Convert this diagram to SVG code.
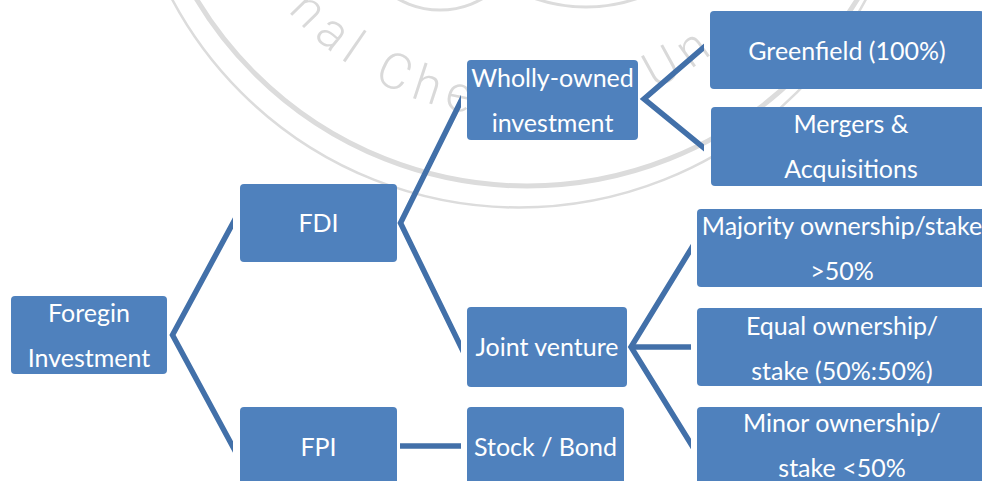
<svg xmlns="http://www.w3.org/2000/svg" width="982" height="481" viewBox="0 0 982 481">
  <style>
    .box { fill: #4F81BD; }
    .lbl { font-family: Lato, "Liberation Sans", sans-serif; font-size: 25px; fill: #ffffff; text-anchor: middle; }
    .link { fill: none; stroke: #4270A9; stroke-width: 5.5; stroke-linejoin: miter; stroke-miterlimit: 10; }
    .seal { fill: none; stroke: #dcdcdc; }
    .sealtxt { font-family: Roboto, "Liberation Sans", sans-serif; font-weight: 300; font-size: 50px; fill: #d9d9d9; letter-spacing: 8px; }
  </style>
  <defs>
    <path id="sealPath" d="M 212,-193 A 311 311 0 0 0 834,-193"/>
    <clipPath id="linkClip" clipPathUnits="userSpaceOnUse">
      <rect x="160" y="190" width="73" height="290"/>
      <rect x="390" y="80" width="71" height="290"/>
      <rect x="390" y="430" width="71" height="30"/>
      <rect x="630" y="35" width="74" height="125"/>
      <rect x="620" y="230" width="71" height="230"/>
    </clipPath>
  </defs>

  <rect width="982" height="481" fill="#ffffff"/>

  <!-- faint seal in the background -->
  <g id="seal">
    <circle class="seal" cx="519" cy="-185.5" r="393" stroke-width="2.5"/>
    <circle class="seal" cx="527" cy="-199.5" r="385.5" stroke-width="5"/>
    <circle class="seal" cx="440" cy="-75" r="85" stroke-width="3"/>
    <circle class="seal" cx="586" cy="-151" r="158" stroke-width="3"/>
    <text class="sealtxt"><textPath href="#sealPath" startOffset="222">nal Che</textPath></text>
    <text class="sealtxt"><textPath href="#sealPath" startOffset="624">Un</textPath></text>
  </g>

  <!-- connectors -->
  <g id="connectors" clip-path="url(#linkClip)">
    <polyline class="link" points="240,210 172.5,335 240,460"/>
    <polyline class="link" points="468,86.9 400.5,223 468,361.3"/>
    <line class="link" x1="400" y1="446" x2="468" y2="446" stroke-linecap="butt"/>
    <polyline class="link" points="712,40.2 644,99 712,154.5"/>
    <polyline class="link" points="698,237.6 631,347 698,455.3"/>
    <line class="link" x1="631" y1="347" x2="698" y2="347"/>
  </g>

  <!-- level 1 -->
  <g id="foreign-investment">
    <rect class="box" x="11" y="296" width="156" height="78" rx="4"/>
    <text class="lbl" x="89" y="322">Foregin</text>
    <text class="lbl" x="89" y="367">Investment</text>
  </g>

  <!-- level 2 -->
  <g id="fdi">
    <rect class="box" x="240" y="184" width="157" height="78" rx="4"/>
    <text class="lbl" x="318.5" y="232">FDI</text>
  </g>
  <g id="fpi">
    <rect class="box" x="240" y="407" width="157" height="78" rx="4"/>
    <text class="lbl" x="318.5" y="456">FPI</text>
  </g>

  <!-- level 3 -->
  <g id="wholly-owned">
    <rect class="box" x="467" y="60" width="171" height="80" rx="4"/>
    <text class="lbl" x="552.5" y="87">Wholly-owned</text>
    <text class="lbl" x="552.5" y="132">investment</text>
  </g>
  <g id="joint-venture">
    <rect class="box" x="467" y="307" width="160" height="80" rx="4"/>
    <text class="lbl" x="547" y="356">Joint venture</text>
  </g>
  <g id="stock-bond">
    <rect class="box" x="467" y="407" width="157" height="80" rx="4"/>
    <text class="lbl" x="545.5" y="456">Stock / Bond</text>
  </g>

  <!-- level 4 -->
  <g id="greenfield">
    <rect class="box" x="710" y="11" width="274" height="78" rx="4"/>
    <text class="lbl" x="847" y="60">Greenfield (100%)</text>
  </g>
  <g id="mergers">
    <rect class="box" x="711" y="107" width="280" height="79" rx="4"/>
    <text class="lbl" x="851" y="133">Mergers &amp;</text>
    <text class="lbl" x="851" y="178">Acquisitions</text>
  </g>
  <g id="majority">
    <rect class="box" x="697" y="209" width="290" height="78" rx="4"/>
    <text class="lbl" x="842" y="235">Majority ownership/stake</text>
    <text class="lbl" x="842" y="280">&gt;50%</text>
  </g>
  <g id="equal">
    <rect class="box" x="697" y="308" width="290" height="78" rx="4"/>
    <text class="lbl" x="842" y="335">Equal ownership/</text>
    <text class="lbl" x="842" y="380">stake (50%:50%)</text>
  </g>
  <g id="minor">
    <rect class="box" x="697" y="407" width="290" height="80" rx="4"/>
    <text class="lbl" x="842" y="432">Minor ownership/</text>
    <text class="lbl" x="842" y="477">stake &lt;50%</text>
  </g>
</svg>
